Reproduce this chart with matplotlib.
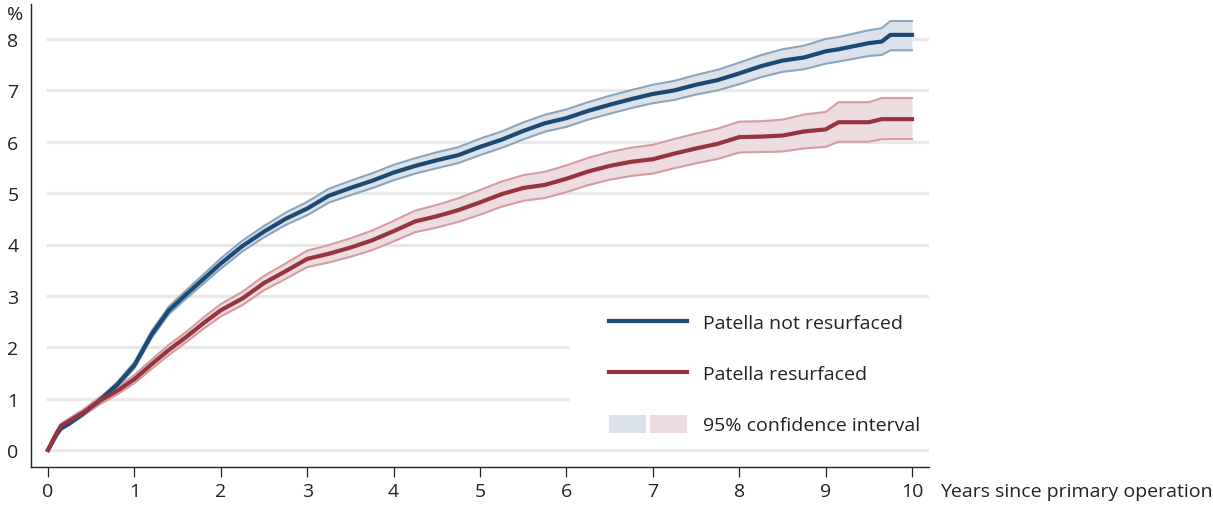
import matplotlib
matplotlib.use("Agg")
import matplotlib.pyplot as plt
from matplotlib.patches import Patch, Rectangle
from matplotlib.lines import Line2D
from matplotlib.legend_handler import HandlerTuple

plt.rcParams['font.family'] = ['Open Sans', 'DejaVu Sans']

# ---- data ----
years = [0, 0.05, 0.1, 0.15, 0.25, 0.4, 0.6, 0.8, 1.0, 1.2, 1.4, 1.6, 1.8, 2.0,
         2.25, 2.5, 2.75, 3.0, 3.25, 3.5, 3.75, 4.0, 4.25, 4.5, 4.75, 5.0, 5.25,
         5.5, 5.75, 6.0, 6.25, 6.5, 6.75, 7.0, 7.25, 7.5, 7.75, 8.0, 8.25, 8.5,
         8.75, 9.0, 9.15, 9.5, 9.65, 9.75, 10.0]

not_resurf = [0, 0.15, 0.3, 0.42, 0.52, 0.7, 0.97, 1.27, 1.65, 2.25, 2.72, 3.03,
              3.33, 3.63, 3.97, 4.25, 4.5, 4.7, 4.95, 5.1, 5.24, 5.4, 5.53, 5.64,
              5.74, 5.9, 6.04, 6.21, 6.36, 6.46, 6.6, 6.72, 6.83, 6.93, 7.0, 7.11,
              7.2, 7.33, 7.47, 7.58, 7.64, 7.76, 7.8, 7.92, 7.95, 8.08, 8.08]
not_resurf_lo = [0, 0.14, 0.28, 0.39, 0.49, 0.66, 0.93, 1.22, 1.59, 2.18, 2.645, 2.95,
                 3.24, 3.53, 3.865, 4.14, 4.38, 4.57, 4.815, 4.96, 5.095, 5.25, 5.38,
                 5.485, 5.585, 5.74, 5.88, 6.045, 6.195, 6.29, 6.43, 6.545, 6.655,
                 6.75, 6.815, 6.92, 7.0, 7.12, 7.255, 7.36, 7.41, 7.52, 7.56, 7.67,
                 7.69, 7.78, 7.78]
not_resurf_hi = [0, 0.16, 0.32, 0.45, 0.55, 0.74, 1.01, 1.32, 1.71, 2.32, 2.795, 3.11,
                 3.42, 3.73, 4.075, 4.36, 4.62, 4.83, 5.085, 5.24, 5.385, 5.55, 5.68,
                 5.795, 5.895, 6.06, 6.2, 6.375, 6.525, 6.63, 6.77, 6.895, 7.005,
                 7.11, 7.185, 7.3, 7.4, 7.54, 7.685, 7.8, 7.87, 8.0, 8.04, 8.17,
                 8.21, 8.35, 8.35]

resurf = [0, 0.17, 0.33, 0.47, 0.57, 0.72, 0.96, 1.15, 1.38, 1.67, 1.95, 2.2, 2.47,
          2.72, 2.95, 3.25, 3.48, 3.72, 3.82, 3.94, 4.08, 4.26, 4.45, 4.55, 4.67,
          4.82, 4.98, 5.1, 5.16, 5.28, 5.42, 5.53, 5.61, 5.66, 5.77, 5.87, 5.96,
          6.09, 6.1, 6.12, 6.2, 6.24, 6.38, 6.38, 6.44, 6.44, 6.44]
resurf_lo = [0, 0.15, 0.3, 0.43, 0.52, 0.66, 0.89, 1.08, 1.3, 1.58, 1.85, 2.1, 2.36,
             2.6, 2.82, 3.11, 3.33, 3.56, 3.65, 3.76, 3.89, 4.06, 4.24, 4.33, 4.44,
             4.58, 4.735, 4.85, 4.905, 5.02, 5.155, 5.26, 5.335, 5.38, 5.485, 5.58,
             5.665, 5.79, 5.8, 5.81, 5.87, 5.9, 6.0, 6.0, 6.05, 6.05, 6.05]
resurf_hi = [0, 0.19, 0.36, 0.51, 0.62, 0.78, 1.03, 1.22, 1.46, 1.76, 2.05, 2.3, 2.58,
             2.84, 3.08, 3.39, 3.63, 3.88, 3.99, 4.12, 4.27, 4.46, 4.66, 4.77, 4.9,
             5.06, 5.225, 5.35, 5.415, 5.54, 5.685, 5.8, 5.885, 5.94, 6.055, 6.16,
             6.255, 6.39, 6.4, 6.43, 6.53, 6.58, 6.77, 6.77, 6.85, 6.85, 6.85]

xticks = list(range(0, 11))
yticks = list(range(0, 9))
labels = ["Patella not resurfaced", "Patella resurfaced", "95% confidence interval"]

# ---- colours ----
BLUE = "#1b4a74"
BLUE_EDGE = "#8ba5bd"
BLUE_FILL = "#dce2ea"
RED = "#963540"
RED_EDGE = "#d39da3"
RED_FILL = "#eddde0"
GRID = "#e9e9e9"
TXT = "#222222"
FS = 14

W, H = 1213, 506
fig = plt.figure(figsize=(W / 100, H / 100), dpi=100)
ax = fig.add_axes([31 / W, (H - 468) / H, (929 - 31) / W, (468 - 5) / H])

x0 = -17 / 86.4
x1 = (929 - 48) / 86.4
ax.set_xlim(x0, x1)
ax.set_ylim(-17 / 51.375, (451 - 5) / 51.375)

# grid lines
for y in yticks:
    ax.plot([-0.02, x1], [y, y], color=GRID, lw=2.4, zorder=1, solid_capstyle='butt')

# confidence bands
ax.fill_between(years, not_resurf_lo, not_resurf_hi, color=BLUE_FILL, lw=0, zorder=2)
ax.fill_between(years, resurf_lo, resurf_hi, color=RED_FILL, lw=0, zorder=2)
for arr in (not_resurf_lo, not_resurf_hi):
    ax.plot(years, arr, color=BLUE_EDGE, lw=1.5, zorder=3)
for arr in (resurf_lo, resurf_hi):
    ax.plot(years, arr, color=RED_EDGE, lw=1.5, zorder=3)
ax.plot(years, not_resurf, color=BLUE, lw=3.0, zorder=4)
ax.plot(years, resurf, color=RED, lw=3.0, zorder=5)

# white area behind the legend
ax.add_patch(Rectangle((570 / W, (H - 440) / H), (935 - 570) / W, (440 - 305) / H,
                       transform=fig.transFigure, facecolor="white", edgecolor="none",
                       zorder=1.5))

# axes styling
for s in ("top", "right"):
    ax.spines[s].set_visible(False)
for s in ("left", "bottom"):
    ax.spines[s].set_linewidth(1.0)
    ax.spines[s].set_color(TXT)
ax.set_xticks(xticks)
ax.set_yticks(yticks)
ax.tick_params(axis="x", direction="out", length=7, width=0.9, color=TXT,
               labelsize=FS, pad=4, labelcolor=TXT)
ax.tick_params(axis="y", length=0, labelsize=FS, pad=9, labelcolor=TXT)

ax.annotate("%", xy=(0, 1), xycoords="axes fraction", xytext=(-16 * 0.72, -10 * 0.72),
            textcoords="offset points", ha="center", va="center", fontsize=FS,
            color=TXT)
ax.annotate("Years since primary operation", xy=(1, 0), xycoords="axes fraction",
            xytext=(11 * 0.72, -24 * 0.72), textcoords="offset points", ha="left",
            va="center", fontsize=FS, color=TXT)

# legend
h1 = Line2D([], [], color=BLUE, lw=3.0)
h2 = Line2D([], [], color=RED, lw=3.0)
h3 = (Patch(facecolor=BLUE_FILL, edgecolor="none"), Patch(facecolor=RED_FILL, edgecolor="none"))
leg = fig.legend([h1, h2, h3], labels, loc="upper left",
                 bbox_to_anchor=(609 / W, 1 - 314 / H), frameon=False, fontsize=FS,
                 handlelength=4.0, handleheight=1.0, handletextpad=0.85,
                 labelspacing=1.63, borderpad=0, borderaxespad=0,
                 handler_map={tuple: HandlerTuple(ndivide=None, pad=0.2)})
for t in leg.get_texts():
    t.set_color(TXT)

fig.savefig("out.png", dpi=100)
